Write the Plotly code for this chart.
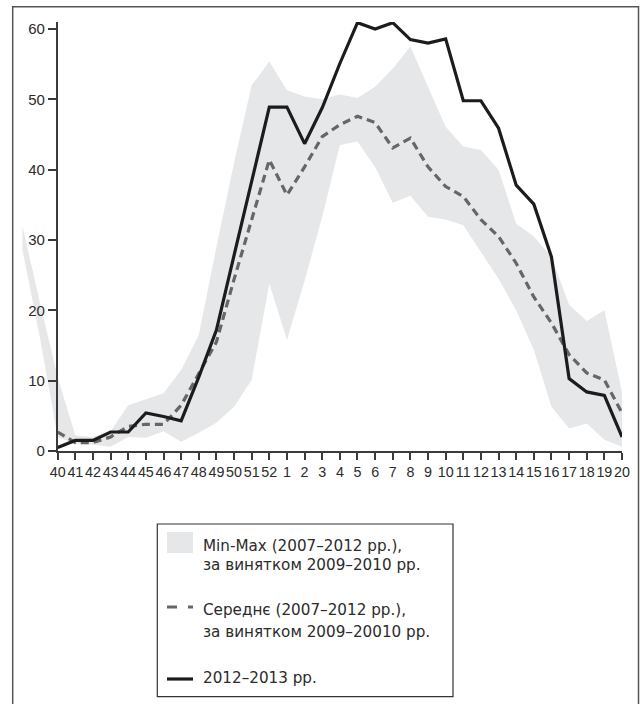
import plotly.graph_objects as go

# ---------------- data ----------------
# all weeks covered by the min-max band (it starts two weeks before the axis)
weeks_band = ["38", "39", "40", "41", "42", "43", "44", "45", "46", "47", "48", "49",
              "50", "51", "52", "1", "2", "3", "4", "5", "6", "7", "8", "9", "10",
              "11", "12", "13", "14", "15", "16", "17", "18", "19", "20"]
band_max = [32.0, 21.0, 10.5, 2.2, 2.0, 2.8, 6.5, 7.3, 8.2, 11.5, 16.5, 29.0,
            41.0, 52.0, 55.4, 51.3, 50.4, 50.0, 50.7, 50.2, 51.8, 54.4, 57.5, 51.8,
            46.1, 43.3, 42.8, 40.0, 32.3, 30.5, 27.6, 20.8, 18.5, 20.0, 8.4]
band_min = [28.6, 16.0, 2.0, 1.0, 0.9, 0.6, 2.0, 1.9, 2.8, 1.3, 2.6, 4.0,
            6.3, 10.1, 23.8, 15.8, 24.2, 33.3, 43.5, 44.0, 40.4, 35.3, 36.3, 33.3,
            32.9, 32.1, 28.3, 24.5, 20.0, 14.4, 6.3, 3.2, 3.9, 1.6, 0.6]

# x-axis categories / tick labels
weeks = ["40", "41", "42", "43", "44", "45", "46", "47", "48", "49", "50", "51",
         "52", "1", "2", "3", "4", "5", "6", "7", "8", "9", "10", "11", "12",
         "13", "14", "15", "16", "17", "18", "19", "20"]
mean_vals = [2.7, 1.2, 1.2, 2.0, 3.5, 3.8, 3.8, 6.5, 11.0, 15.5, 24.4, 32.8,
             41.4, 36.4, 40.4, 44.7, 46.4, 47.6, 46.7, 43.1, 44.5, 40.4, 37.6, 36.2,
             32.9, 30.5, 26.7, 21.9, 18.2, 13.7, 11.1, 10.1, 5.4]
season_vals = [0.5, 1.5, 1.5, 2.7, 2.7, 5.4, 4.9, 4.3, 10.5, 17.2, 27.8, 38.5,
               48.9, 48.9, 43.7, 48.8, 55.1, 60.9, 60.0, 60.9, 58.5, 58.0, 58.6, 49.8,
               49.8, 45.9, 37.8, 35.1, 27.6, 10.3, 8.4, 7.9, 2.0]
y_ticks = [0, 10, 20, 30, 40, 50, 60]

legend_band = ["Min-Max (2007–2012 рр.),", "за винятком 2009–2010 рр."]
legend_mean = ["Середнє (2007–2012 рр.),", "за винятком 2009–20010 рр."]
legend_season = ["2012–2013 рр."]

# ---------------- layout geometry (reference pixels) ----------------
W, H = 642, 704
X0, X1 = 57.7, 622.0      # plot area left/right (week 40 .. week 20)
Y0, Y1 = 451.0, 22.0      # y = 0 and y = 61
BL = 12.0                 # left edge of the band sub-plot
step = (X1 - X0) / (len(weeks) - 1)
i40 = weeks_band.index("40")
band_left = i40 - (X0 - BL) / step


def fx(px):
    return px / W


def fy(py):
    return 1 - py / H


FONT = "Liberation Sans, Arial, sans-serif"
LFONT = "DejaVu Sans, sans-serif"
TXT = "#2b2b2b"
AX = "#3a3a3a"
BAND = "#e6e7e8"

fig = go.Figure()

# band (hidden axes, wider domain)
fig.add_trace(go.Scatter(x=weeks_band, y=band_min, mode="lines",
                         line=dict(width=0, color=BAND),
                         xaxis="x", yaxis="y", showlegend=False, hoverinfo="skip"))
fig.add_trace(go.Scatter(x=weeks_band, y=band_max, mode="lines", fill="tonexty",
                         fillcolor=BAND, line=dict(width=0, color=BAND),
                         xaxis="x", yaxis="y", showlegend=False))

# lines (visible axes)
fig.add_trace(go.Scatter(x=weeks, y=mean_vals, mode="lines",
                         line=dict(color="#666666", width=3.2, dash="8px,5px"),
                         xaxis="x2", yaxis="y2", showlegend=False))
fig.add_trace(go.Scatter(x=weeks, y=season_vals, mode="lines",
                         line=dict(color="#1c1c1c", width=3.2),
                         xaxis="x2", yaxis="y2", showlegend=False))

fig.update_layout(
    template="none",
    width=W, height=H,
    margin=dict(l=0, r=0, t=0, b=0, pad=0, autoexpand=False),
    paper_bgcolor="white",
    plot_bgcolor="rgba(0,0,0,0)",
    font=dict(family=FONT, size=15, color=TXT),
    showlegend=False,
    xaxis=dict(domain=[fx(BL), fx(X1)], type="category", categoryarray=weeks_band,
               range=[band_left, len(weeks_band) - 1], visible=False, anchor="y",
               fixedrange=True, automargin=False),
    yaxis=dict(domain=[fy(Y0), fy(Y1)], range=[0, 61], visible=False, anchor="x",
               fixedrange=True, automargin=False),
    xaxis2=dict(domain=[fx(X0), fx(X1)], type="category", categoryarray=weeks,
                range=[0, len(weeks) - 1], anchor="y2", automargin=False,
                showline=True, linecolor=AX, linewidth=1.5,
                ticks="outside", ticklen=7, tickwidth=1.5, tickcolor=AX,
                tickmode="array", tickvals=weeks, ticktext=weeks,
                tickangle=0, showgrid=False, zeroline=False, fixedrange=True,
                tickfont=dict(family=FONT, size=14.3, color=TXT)),
    yaxis2=dict(domain=[fy(Y0), fy(Y1)], range=[0, 61], anchor="x2", automargin=False,
                showline=True, linecolor=AX, linewidth=1.5,
                ticks="outside", ticklen=8, tickwidth=1.5, tickcolor=AX,
                tickvals=y_ticks, showgrid=False, zeroline=False, fixedrange=True,
                tickfont=dict(family=FONT, size=15, color=TXT)),
)

shapes = []
# outer frame
shapes.append(dict(type="rect", xref="paper", yref="paper",
                   x0=fx(12.7), x1=fx(638.5), y0=fy(6.7), y1=fy(720),
                   line=dict(color="#555555", width=1.5), fillcolor="rgba(0,0,0,0)"))
# legend box
shapes.append(dict(type="rect", xref="paper", yref="paper",
                   x0=fx(157.3), x1=fx(453), y0=fy(524), y1=fy(696.7),
                   line=dict(color="#333333", width=1.2), fillcolor="white"))
# legend swatches
shapes.append(dict(type="rect", xref="paper", yref="paper",
                   x0=fx(167), x1=fx(193), y0=fy(532), y1=fy(553),
                   line=dict(width=0), fillcolor=BAND))
shapes.append(dict(type="line", xref="paper", yref="paper",
                   x0=fx(167), x1=fx(193), y0=fy(607), y1=fy(607),
                   line=dict(color="#666666", width=3.2, dash="10px,11px")))
shapes.append(dict(type="line", xref="paper", yref="paper",
                   x0=fx(167), x1=fx(193), y0=fy(679), y1=fy(679),
                   line=dict(color="#1c1c1c", width=3.2)))

annotations = []
lines_px = [(legend_band[0], 551), (legend_band[1], 570),
            (legend_mean[0], 615), (legend_mean[1], 637),
            (legend_season[0], 683)]
for txt, base in lines_px:
    annotations.append(dict(text=txt, xref="paper", yref="paper",
                            x=fx(201), y=fy(base - 5), xanchor="left", yanchor="middle",
                            showarrow=False, font=dict(family=LFONT, size=15.2, color=TXT)))

fig.update_layout(shapes=shapes, annotations=annotations)

post = ("var s=document.createElement('style');"
        "s.textContent='html,body{margin:0!important;padding:0!important;overflow:hidden!important;}';"
        "document.head.appendChild(s);")
fig.write_html("out.html", post_script=post, config={"displayModeBar": False})
